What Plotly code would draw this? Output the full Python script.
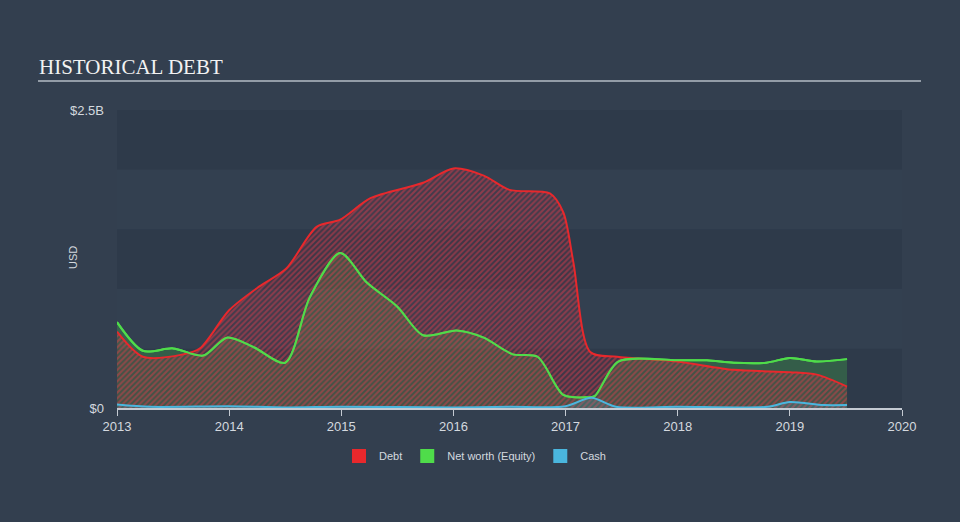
import plotly.graph_objects as go

# ---- data (values in billions USD, x as decimal year) ----
debt_x = [2013.0, 2013.23, 2013.59, 2013.74, 2014.0, 2014.27, 2014.51, 2014.78, 2014.99, 2015.26,
          2015.73, 2016.0, 2016.27, 2016.5, 2016.86, 2016.98, 2017.07, 2017.22, 2017.46, 2017.99,
          2018.5, 2019.0, 2019.24, 2019.51]
debt_y = [0.64, 0.43, 0.45, 0.50, 0.82, 1.02, 1.17, 1.52, 1.58, 1.76,
          1.89, 2.01, 1.95, 1.83, 1.80, 1.64, 1.22, 0.47, 0.43, 0.39,
          0.32, 0.30, 0.28, 0.18]

eq_x = [2013.0, 2013.23, 2013.5, 2013.77, 2013.98, 2014.22, 2014.5, 2014.72, 2014.99, 2015.23,
        2015.5, 2015.73, 2016.03, 2016.27, 2016.53, 2016.75, 2016.98, 2017.19, 2017.26, 2017.47,
        2017.99, 2018.26, 2018.5, 2018.79, 2019.0, 2019.24, 2019.51]
eq_y = [0.72, 0.48, 0.50, 0.44, 0.59, 0.51, 0.38, 0.93, 1.30, 1.05,
        0.85, 0.61, 0.65, 0.59, 0.45, 0.43, 0.11, 0.09, 0.10, 0.39,
        0.40, 0.40, 0.38, 0.38, 0.42, 0.39, 0.41]

cash_x = [2013.0, 2013.3, 2014.0, 2014.5, 2015.0, 2016.0, 2016.5, 2017.0, 2017.23, 2017.45,
          2018.0, 2018.8, 2019.0, 2019.3, 2019.51]
cash_y = [0.03, 0.01, 0.015, 0.005, 0.01, 0.005, 0.01, 0.015, 0.085, 0.01,
          0.01, 0.01, 0.05, 0.025, 0.025]

year_ticks = [2013, 2014, 2015, 2016, 2017, 2018, 2019, 2020]
y_ticks = [0, 2.5]
y_ticktext = ["$0", "$2.5B"]

RED = "#e8282c"
GREEN = "#4fdc4a"
BLUE = "#4ab6de"
TEXT = "#d4d9df"
SANS = "Liberation Sans, Arial, sans-serif"

fig = go.Figure()

fig.add_trace(go.Scatter(
    x=eq_x, y=eq_y, mode="lines", line=dict(color=GREEN, width=2, shape="spline", smoothing=0.8),
    fill="tozeroy", fillcolor="rgba(79,220,74,0.22)", showlegend=False, hoverinfo="skip"))

fig.add_trace(go.Scatter(
    x=debt_x, y=debt_y, mode="lines", line=dict(color=RED, width=2, shape="spline", smoothing=0.8),
    fill="tozeroy", fillcolor="rgba(0,0,0,0)",
    fillpattern=dict(shape="/", fgcolor="rgba(235,60,75,0.9)", bgcolor="rgba(120,40,60,0.2)",
                     size=4, solidity=0.5),
    showlegend=False, hoverinfo="skip"))

# redraw equity line on top
fig.add_trace(go.Scatter(
    x=eq_x, y=eq_y, mode="lines", line=dict(color=GREEN, width=2, shape="spline", smoothing=0.8),
    showlegend=False, hoverinfo="skip"))

fig.add_trace(go.Scatter(
    x=cash_x, y=cash_y, mode="lines", line=dict(color=BLUE, width=2, shape="spline", smoothing=0.8),
    fill="tozeroy", fillcolor="rgba(74,182,222,0.2)", showlegend=False, hoverinfo="skip"))

# legend entries
for name, col in [("Debt", RED), ("Net worth (Equity)", GREEN), ("Cash", BLUE)]:
    fig.add_trace(go.Scatter(x=[None], y=[None], mode="markers", name=name,
                             marker=dict(symbol="square", size=14, color=col)))

# background bands
shapes = []
for i in range(5):
    col = "#2e3a4a" if i % 2 == 0 else "#334050"
    shapes.append(dict(type="rect", xref="paper", yref="y", x0=0, x1=1, y0=i * 0.5, y1=(i + 1) * 0.5,
                       fillcolor=col, line=dict(width=0), layer="below"))
# title underline
shapes.append(dict(type="line", xref="paper", yref="paper", x0=(38 - 117) / 785, x1=(921 - 117) / 785,
                   y0=(408 - 81) / 298, y1=(408 - 81) / 298, line=dict(color="#b5bcc5", width=1.5)))

fig.update_layout(
    width=960, height=522,
    margin=dict(l=117, r=58, t=110, b=114, autoexpand=False),
    paper_bgcolor="#333f4f", plot_bgcolor="#333f4f",
    shapes=shapes,
    title=dict(text="HISTORICAL DEBT", x=39 / 960, xanchor="left", y=1 - 67 / 522, yanchor="middle",
               font=dict(family="Liberation Serif", size=21, color="#f2f2f2")),
    font=dict(family=SANS, color=TEXT),
    legend=dict(orientation="h", x=(475 - 117) / 785, xanchor="center",
                y=(408 - 456) / 298, yanchor="middle",
                font=dict(size=11, color=TEXT, family=SANS), bgcolor="rgba(0,0,0,0)", itemwidth=30),
    xaxis=dict(range=[2013, 2020], tickvals=year_ticks, ticktext=[str(t) for t in year_ticks],
               showgrid=False, zeroline=False, showline=True, linecolor="#c4cad2", linewidth=1.5,
               ticks="outside", ticklen=6, tickcolor="#c4cad2", tickfont=dict(size=13, color=TEXT, family=SANS)),
    yaxis=dict(range=[0, 2.5], tickvals=y_ticks, ticktext=y_ticktext, showgrid=False, zeroline=False,
               showline=False, ticks="", tickfont=dict(size=13, color=TEXT, family=SANS), ticklabelstandoff=12),
    annotations=[dict(text="USD", xref="paper", yref="paper", x=(73 - 117) / 785, y=(408 - 258) / 298,
                      xanchor="center", yanchor="middle", textangle=-90, showarrow=False,
                      font=dict(size=11, color=TEXT, family=SANS))],
    hovermode=False,
)

fig.write_html("out.html")
